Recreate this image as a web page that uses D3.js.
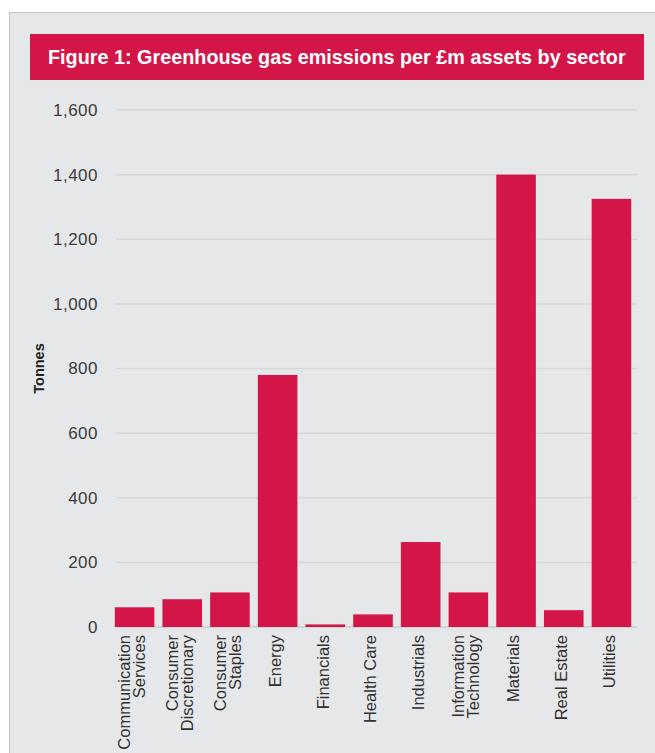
<!DOCTYPE html>
<html>
<head>
<meta charset="utf-8">
<script src="https://cdn.jsdelivr.net/npm/d3@7"></script>
<style>
  html, body { margin: 0; padding: 0; background: #fff; }
  svg { display: block; }
</style>
</head>
<body>
<div id="chart"></div>
<script>
// sectors and emissions (tonnes per £m assets)
const sectors = [
  ["Communication", "Services"],
  ["Consumer", "Discretionary"],
  ["Consumer", "Staples"],
  ["Energy"],
  ["Financials"],
  ["Health Care"],
  ["Industrials"],
  ["Information", "Technology"],
  ["Materials"],
  ["Real Estate"],
  ["Utilities"]
];
const emissions = [61, 86, 107, 780, 8, 39, 263, 107, 1400, 52, 1325];
const yTicks = [0, 200, 400, 600, 800, 1000, 1200, 1400, 1600];

const W = 655, H = 753;
const red = "#d31548";

const svg = d3.select("#chart")
  .append("svg")
    .attr("width", W)
    .attr("height", H);

// grey panel
svg.append("rect")
    .attr("x", 9.5).attr("y", 12.5)
    .attr("width", W).attr("height", H)
    .attr("fill", "#e6e7e9")
    .attr("stroke", "#c3c4c6")
    .attr("stroke-width", 1);

// title banner
svg.append("rect")
    .attr("x", 30).attr("y", 34)
    .attr("width", 614).attr("height", 46)
    .attr("fill", red);

// title is a condensed face in the original: squeeze it to fit horizontally
const title = svg.append("text")
    .attr("x", 0).attr("y", 0)
    .style("font-family", "'Liberation Sans', Arial, sans-serif")
    .style("font-weight", "bold")
    .style("font-size", "20px")
    .style("fill", "#fff")
    .text("Figure 1: Greenhouse gas emissions per £m assets by sector");
const natural = title.node().getComputedTextLength();
title.attr("transform", `translate(48,64) scale(${578 / natural},1)`);

// scales
const x = d3.scaleBand()
    .domain(d3.range(sectors.length))
    .range([110, 636])
    .paddingInner(0.17)
    .paddingOuter(0.1);

const y = d3.scaleLinear()
    .domain([0, 1600])
    .range([627, 110]);

// gridlines
svg.append("g")
  .selectAll("line")
  .data(yTicks)
  .enter()
  .append("line")
    .attr("x1", 116)
    .attr("x2", 637)
    .attr("y1", d => y(d))
    .attr("y2", d => y(d))
    .attr("stroke", d => d === 0 ? "#cbccce" : "#d6d7d9")
    .attr("stroke-width", 1.5);

// y axis labels
svg.append("g")
  .selectAll("text")
  .data(yTicks)
  .enter()
  .append("text")
    .attr("x", 98)
    .attr("y", d => y(d))
    .attr("dy", "0.35em")
    .attr("text-anchor", "end")
    .style("font-family", "'Liberation Sans', Arial, sans-serif")
    .style("font-size", "17px")
    .style("letter-spacing", "0.5px")
    .style("fill", "#3c3c3c")
    .text(d => d3.format(",")(d));

// y axis title
svg.append("text")
    .attr("transform", `translate(44,${(y(0) + y(1600)) / 2}) rotate(-90)`)
    .attr("text-anchor", "middle")
    .style("font-family", "'Liberation Sans', Arial, sans-serif")
    .style("font-weight", "bold")
    .style("font-size", "14.5px")
    .style("fill", "#222")
    .text("Tonnes");

// bars
svg.append("g")
  .selectAll("rect")
  .data(emissions)
  .enter()
  .append("rect")
    .attr("x", (d, i) => x(i))
    .attr("y", d => y(d))
    .attr("width", x.bandwidth())
    .attr("height", d => y(0) - y(d))
    .attr("fill", red);

// category labels, rotated
const labels = svg.append("g")
  .selectAll("text")
  .data(sectors)
  .enter()
  .append("text")
    .attr("transform", (d, i) => `translate(${x(i) + x.bandwidth() / 2 - 2.5},635) rotate(-90)`)
    .attr("text-anchor", "end")
    .style("font-family", "'Liberation Sans', Arial, sans-serif")
    .style("font-size", "16.5px")
    .style("fill", "#333");

labels.each(function(lines) {
  const t = d3.select(this);
  const lh = 0.92;
  const first = 0.35 - (lines.length - 1) * lh / 2;
  lines.forEach((ln, k) => {
    t.append("tspan")
      .attr("x", 0)
      .attr("y", 0)
      .attr("dy", (first + k * lh) + "em")
      .text(ln);
  });
});
</script>
</body>
</html>
